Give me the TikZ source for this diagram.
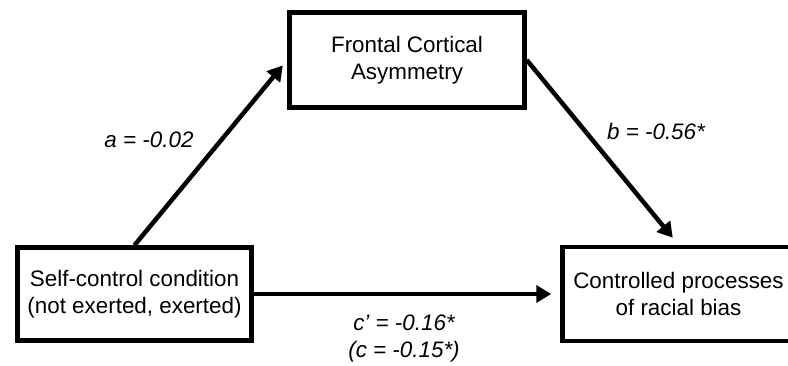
\documentclass[tikz,border=0pt]{standalone}
\usepackage{fontspec}
\setmainfont{Liberation Sans}
\usetikzlibrary{arrows.meta}
\tikzset{
  varbox/.style={draw=black, line width=4.5pt, fill=white, align=center,
    inner sep=2pt, font=\fontsize{22.4}{27}\selectfont},
  path/.style={line width=4.5pt, -{Triangle[length=15pt,width=17pt]}},
  coef/.style={font=\fontsize{22.4}{27}\selectfont\itshape, align=center, inner sep=0pt}
}
\begin{document}
\begin{tikzpicture}[x=1pt,y=-1pt]
  \useasboundingbox (0,0) rectangle (788,366);
  \clip (0,0) rectangle (788,366);
  \fill[white] (0,0) rectangle (788,366);

  % variables
  \node[varbox, minimum width=234pt, minimum height=93pt] (self) at (134.5,294)
    {Self-control condition\\(not exerted, exerted)};
  \node[varbox, minimum width=235pt, minimum height=95pt] (fca) at (407,60)
    {Frontal Cortical\\Asymmetry};
  \node[varbox, minimum width=232pt, minimum height=94pt] (ctrl) at (678.5,294)
    {Controlled processes\\of racial bias};

  % paths
  \draw[path, shorten >=7pt] (self.north) -- (fca.west);
  \draw[path, shorten >=9pt] (fca.east) -- (ctrl.north);
  \draw[path, shorten >=9pt] (self.east) -- (ctrl.west);

  % coefficients
  \node[coef] (la) at (149,140) {a = -0.02};
  \node[coef] (lb) at (656,131) {b = -0.56*};
  \node[coef] (lc) at (404,338) {c{\char"27} = -0.16*\\(c = -0.15*)};
\end{tikzpicture}
\end{document}
